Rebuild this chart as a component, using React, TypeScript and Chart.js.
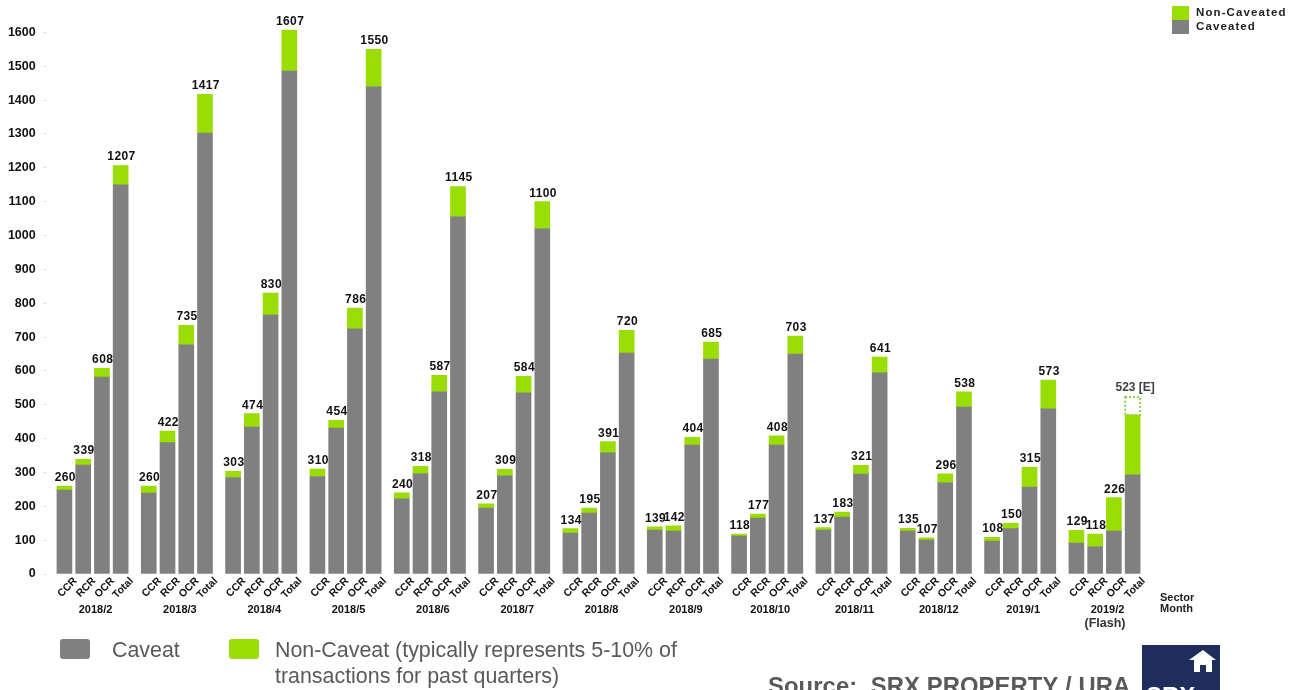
import React, { useEffect, useRef } from "react";
import { Chart, registerables } from "chart.js";

Chart.register(...registerables);

const months = ["2018/2","2018/3","2018/4","2018/5","2018/6","2018/7","2018/8","2018/9","2018/10","2018/11","2018/12","2019/1","2019/2"];
const sectors = ["CCR","RCR","OCR","Total"];
const yTicks = [0,100,200,300,400,500,600,700,800,900,1000,1100,1200,1300,1400,1500,1600];
const caveated = [
  248,322,582,1150, 239,388,677,1303, 285,434,765,1486, 288,431,724,1439,
  222,296,538,1055, 195,290,535,1020, 121,180,358,653, 130,127,381,635,
  112,165,381,650, 130,168,295,594, 127,100,269,493, 97,134,257,488, 91,80,127,293,
];
const nonCaveated = [
  12,17,26,57, 21,34,58,114, 18,40,65,121, 22,23,62,111,
  18,22,49,90, 12,19,49,80, 13,15,33,67, 9,15,23,50,
  6,12,27,53, 7,15,26,47, 8,7,27,45, 11,16,58,85, 38,38,99,177,
];
const estimated = [53];
const totals = [
  260,339,608,1207, 260,422,735,1417, 303,474,830,1607, 310,454,786,1550,
  240,318,587,1145, 207,309,584,1100, 134,195,391,720, 139,142,404,685,
  118,177,408,703, 137,183,321,641, 135,107,296,538, 108,150,315,573, 129,118,226,523,
];

const GREY = "#808080";
const GREEN = "#99DD04";
const FONT = '"Liberation Sans", Arial, sans-serif';

const SLOTS = 118;
const slotOf = (i: number) => 2 + 9 * Math.floor(i / 4) + 2 * (i % 4);
const sparse = (src: number[], offset = 0) => {
  const out: (number | null)[] = new Array(SLOTS).fill(null);
  src.forEach((v, i) => { out[slotOf(i + offset)] = v; });
  return out;
};
const sectorLabels: string[] = new Array(SLOTS).fill("");
totals.forEach((_, i) => { sectorLabels[slotOf(i)] = sectors[i % 4]; });
const monthLabels: string[] = new Array(SLOTS).fill("");
months.forEach((m, g) => { monthLabels[2 + 9 * g + 3] = m; });

const annotate = {
  id: "annotate",
  afterDatasetsDraw(chart: any) {
    const { ctx, scales } = chart;
    const x = scales.x, y = scales.y;
    ctx.save();
    ctx.textAlign = "center";
    ctx.textBaseline = "alphabetic";
    totals.forEach((t, i) => {
      const px = x.getPixelForValue(slotOf(i));
      const py = y.getPixelForValue(t);
      if (i === totals.length - 1) {
        ctx.font = `bold 12px ${FONT}`;
        ctx.fillStyle = "#404040";
        ctx.fillText(`${t} [E]`, px + 2.5, py - 6);
      } else {
        ctx.font = `bold 12px ${FONT}`;
        ctx.fillStyle = "#111";
        (ctx as any).letterSpacing = "0.4px";
        ctx.fillText(String(t), px + 0.8, py - 5);
        (ctx as any).letterSpacing = "0px";
      }
    });
    // dotted estimate box
    const el = chart.getDatasetMeta(2).data[slotOf(totals.length - 1)];
    if (el) {
      const w = 15;
      ctx.strokeStyle = "#8FD14F";
      ctx.lineWidth = 2;
      ctx.setLineDash([2, 2]);
      ctx.strokeRect(el.x - w / 2, el.y, w, el.base - el.y);
      ctx.setLineDash([]);
    }
    // footer marks
    ctx.textAlign = "left";
    ctx.fillStyle = "#222";
    ctx.font = `bold 11px ${FONT}`;
    ctx.fillText("Sector", 1160, 601);
    ctx.fillText("Month", 1160, 612);
    ctx.textAlign = "center";
    ctx.font = `bold 12.5px ${FONT}`;
    ctx.fillStyle = "#333";
    ctx.fillText("(Flash)", 1105, 627);

    // top legend
    ctx.fillStyle = GREEN;
    ctx.fillRect(1172, 6, 17, 14);
    ctx.fillStyle = GREY;
    ctx.fillRect(1172, 20, 17, 14);
    ctx.textAlign = "left";
    ctx.fillStyle = "#222";
    ctx.font = `bold 11.5px ${FONT}`;
    (ctx as any).letterSpacing = "1.1px";
    ctx.fillText("Non-Caveated", 1196, 16);
    ctx.fillText("Caveated", 1196, 30);
    (ctx as any).letterSpacing = "0px";

    // bottom legend
    const rr = (rx: number, ry: number, rw: number, rh: number, c: string) => {
      ctx.fillStyle = c;
      ctx.beginPath();
      ctx.roundRect(rx, ry, rw, rh, 3);
      ctx.fill();
    };
    rr(60, 639, 30, 20, GREY);
    rr(229, 639, 30, 20, GREEN);
    ctx.fillStyle = "#595959";
    ctx.font = `21.4px ${FONT}`;
    ctx.fillText("Caveat", 112, 657);
    ctx.fillText("Non-Caveat (typically represents 5-10% of", 275, 657);
    ctx.fillText("transactions for past quarters)", 275, 683);
    ctx.font = `bold 23.8px ${FONT}`;
    (ctx as any).letterSpacing = "0.1px";
    ctx.fillText("Source:  SRX PROPERTY / URA", 768, 693.5);
    (ctx as any).letterSpacing = "0px";

    // logo
    ctx.fillStyle = "#1F2D5C";
    ctx.fillRect(1142, 645, 78, 45);
    ctx.fillStyle = "#fff";
    ctx.beginPath();
    ctx.moveTo(1189, 660);
    ctx.lineTo(1203, 650);
    ctx.lineTo(1216, 660);
    ctx.lineTo(1212, 660);
    ctx.lineTo(1212, 672);
    ctx.lineTo(1206, 672);
    ctx.lineTo(1206, 665);
    ctx.lineTo(1200, 665);
    ctx.lineTo(1200, 672);
    ctx.lineTo(1194, 672);
    ctx.lineTo(1194, 660);
    ctx.closePath();
    ctx.fill();
    ctx.font = `bold 24px ${FONT}`;
    ctx.fillText("SRX", 1146, 704);
    ctx.restore();
  },
};

export default function App() {
  const ref = useRef<HTMLCanvasElement | null>(null);
  useEffect(() => {
    document.body.style.margin = "0";
    const chart = new Chart(ref.current!, {
      type: "bar",
      data: {
        labels: sectorLabels,
        datasets: [
          { label: "Caveated", data: sparse(caveated), backgroundColor: GREY, barThickness: 15, stack: "s" },
          { label: "Non-Caveated", data: sparse(nonCaveated), backgroundColor: GREEN, barThickness: 15, stack: "s" },
          { label: "Estimated", data: sparse(estimated, totals.length - 1), backgroundColor: "rgba(0,0,0,0)", barThickness: 15, stack: "s" },
        ],
      } as any,
      options: {
        responsive: false,
        animation: false,
        events: [],
        layout: { padding: { left: 0, right: 158, top: 2, bottom: 0 } },
        plugins: { legend: { display: false }, tooltip: { enabled: false } },
        scales: {
          y: {
            stacked: true,
            min: 0,
            max: 1690,
            border: { display: false },
            grid: { drawOnChartArea: false, tickLength: 2, tickColor: "#d9d9d9" },
            afterBuildTicks: (s: any) => { s.ticks = yTicks.map((value) => ({ value })); },
            ticks: {
              padding: 8,
              color: "#111",
              callback: (v: any) => String(v),
              font: { family: FONT, size: 12.5, weight: "bold" },
            },
            afterFit: (s: any) => { s.width = 45.7; s.paddingTop = 0; s.paddingBottom = 0; },
          },
          x: {
            stacked: true,
            offset: false,
            border: { display: false },
            grid: { display: false, drawTicks: false, offset: false },
            ticks: {
              autoSkip: false,
              minRotation: 45,
              maxRotation: 45,
              labelOffset: 11,
              padding: 1,
              color: "#111",
              font: { family: FONT, size: 10.5, weight: "bold" },
            },
            afterFit: (s: any) => { s.height = 26; },
          },
          x2: {
            type: "category",
            position: "bottom",
            labels: monthLabels,
            offset: false,
            border: { display: false },
            grid: { display: false, drawTicks: false, offset: false },
            ticks: {
              autoSkip: false,
              minRotation: 0,
              maxRotation: 0,
              labelOffset: 3,
              padding: 3,
              color: "#111",
              font: { family: FONT, size: 11, weight: "bold" },
            },
            afterFit: (s: any) => { s.height = 90; },
          },
        },
      } as any,
      plugins: [annotate],
    });
    return () => chart.destroy();
  }, []);
  return (
    <div style={{ width: 1300, height: 690, overflow: "hidden" }}>
      <canvas ref={ref} width={1300} height={690} style={{ display: "block" }} />
    </div>
  );
}
